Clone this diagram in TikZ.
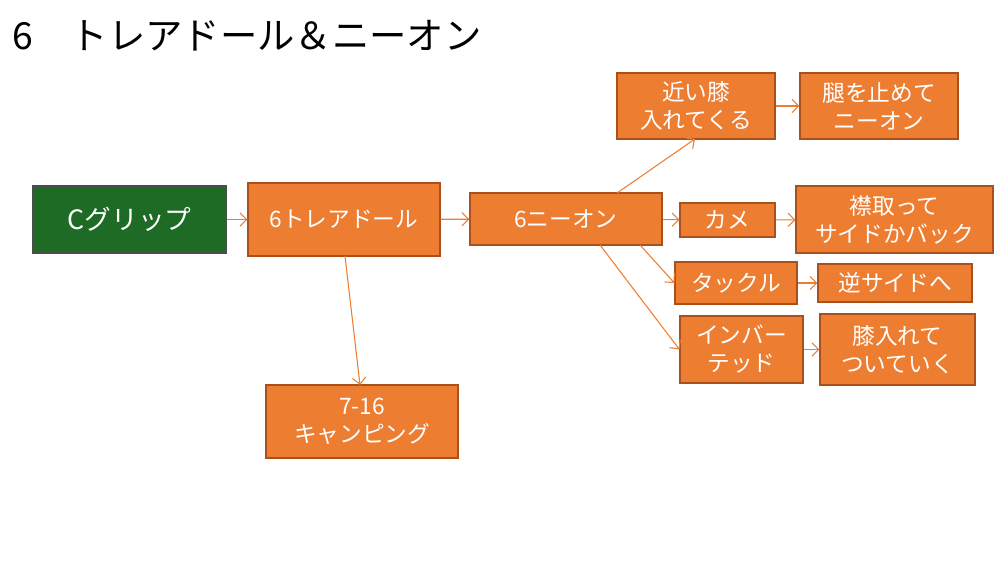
\documentclass[tikz,border=0pt]{standalone}
\usepackage{fontspec}
\setmainfont{Noto Sans CJK JP}
\usetikzlibrary{arrows.meta}
\definecolor{boxorange}{HTML}{ED7D31}
\definecolor{boxedge}{HTML}{A9501C}
\definecolor{boxgreen}{HTML}{1D6B24}
\tikzset{
  movebox/.style={draw=boxedge, thick, fill=boxorange, text=white, font=\fontsize{17}{21}\selectfont,
    align=center, inner sep=0pt},
  link/.style={draw=boxorange, thick, -{Straight Barb[length=5pt]}}
}
\begin{document}
\begin{tikzpicture}[x=0.75pt, y=-0.75pt]
  \useasboundingbox (0,0) rectangle (1000,563);
  \node[anchor=west, font=\fontsize{28}{32}\selectfont] (title) at (8,36) {6\quad トレアドール＆ニーオン};

  % boxes given by corners
  \foreach \n/\xa/\ya/\xb/\yb/\t in {
      toreador/248/183/440/256/{6トレアドール},
      kneeon/470/193/662/245/{6ニーオン},
      nearknee/617/73/775/139/{近い膝\\入れてくる},
      thigh/800/73/958/139/{腿を止めて\\ニーオン},
      turtle/680/203/775/237/{カメ},
      collar/796/186/993/253/{襟取って\\サイドかバック},
      tackle/675/262/797/304/{タックル},
      reverse/818/264/972/302/{逆サイドへ},
      inverted/680/316/803/383/{インバー\\テッド},
      follow/820/314/975/385/{膝入れて\\ついていく},
      camping/266/385/458/458/{7-16\\キャンピング}} {
    \node[movebox, minimum width={(\xb-\xa)*0.75pt}, minimum height={(\yb-\ya)*0.75pt}]
      (\n) at ({(\xa+\xb)/2},{(\ya+\yb)/2}) {\t};
  }
  \node[movebox, fill=boxgreen, draw=black!70, font=\fontsize{20}{24}\selectfont,
    minimum width=144.75pt, minimum height=50.25pt] (cgrip) at (129.5,219.5) {Cグリップ};

  \coordinate (k1) at (617,193);
  \coordinate (k2) at (640,245);
  \coordinate (k3) at (600,245);
  \coordinate (t1) at (345,256);
  \coordinate (c1) at (360,385);
  \coordinate (n1) at (695,139);

  \draw[link] (cgrip) -- (toreador);
  \draw[link] (toreador) -- (kneeon);
  \draw[link] (t1) -- (c1);
  \draw[link] (k1) -- (n1);
  \draw[link] (nearknee) -- (thigh);
  \draw[link] (kneeon) -- (turtle);
  \draw[link] (turtle) -- (collar);
  \draw[link] (k2) -- (tackle.west);
  \draw[link] (k3) -- (inverted.west);
  \draw[link] (tackle) -- (reverse);
  \draw[link] (inverted) -- (follow);
\end{tikzpicture}
\end{document}
